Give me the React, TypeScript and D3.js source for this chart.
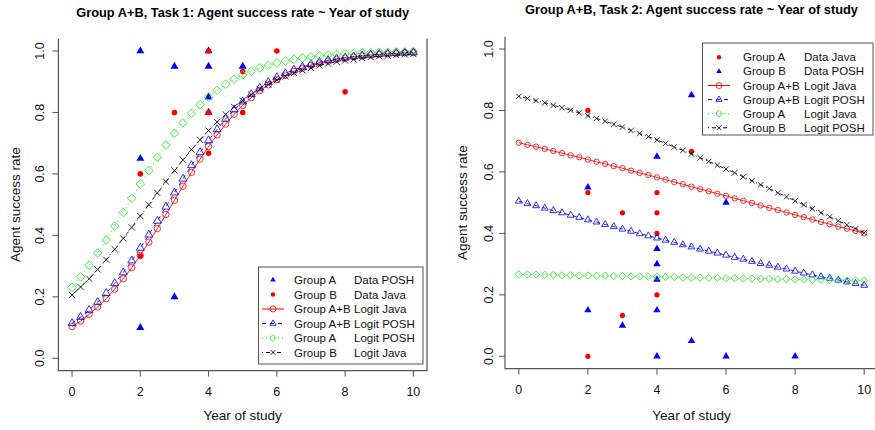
import React from 'react';
import * as d3 from 'd3';

// x grid of the fitted logit curves
const years = [0, 0.25, 0.5, 0.75, 1, 1.25, 1.5, 1.75, 2, 2.25, 2.5, 2.75, 3, 3.25, 3.5, 3.75, 4, 4.25, 4.5, 4.75,
  5, 5.25, 5.5, 5.75, 6, 6.25, 6.5, 6.75, 7, 7.25, 7.5, 7.75, 8, 8.25, 8.5, 8.75, 9, 9.25, 9.5, 9.75, 10];

const xTicks = [0, 2, 4, 6, 8, 10];
const yTicks = [0, 0.2, 0.4, 0.6, 0.8, 1.0];

// Task 1 observed data
const t1PoshYear = [2, 2, 2, 3, 3, 4, 4, 4, 4, 5];
const t1PoshRate = [1.0, 0.65, 0.1, 0.95, 0.2, 1.0, 0.95, 0.85, 0.8, 0.95];
const t1JavaYear = [2, 2, 3, 4, 4, 4, 5, 5, 6, 8];
const t1JavaRate = [0.6, 0.333, 0.8, 1.0, 0.8, 0.667, 0.933, 0.8, 1.0, 0.867];

// Task 1 logit fits
const t1LogitJavaAB = [0.103, 0.121, 0.143, 0.167, 0.194, 0.225, 0.259, 0.295, 0.335, 0.378,
  0.422, 0.468, 0.514, 0.560, 0.605, 0.648, 0.689, 0.727, 0.762, 0.794,
  0.823, 0.848, 0.871, 0.890, 0.907, 0.921, 0.934, 0.944, 0.953, 0.961,
  0.967, 0.973, 0.977, 0.981, 0.984, 0.987, 0.989, 0.991, 0.992, 0.994, 0.995];
const t1LogitPoshAB = [0.114, 0.134, 0.157, 0.183, 0.212, 0.244, 0.279, 0.318, 0.359, 0.402,
  0.447, 0.493, 0.539, 0.584, 0.628, 0.670, 0.709, 0.745, 0.779, 0.809,
  0.835, 0.859, 0.880, 0.898, 0.914, 0.927, 0.939, 0.948, 0.957, 0.964,
  0.970, 0.975, 0.979, 0.982, 0.985, 0.988, 0.990, 0.991, 0.993, 0.994, 0.995];
const t1LogitPoshA = [0.231, 0.265, 0.303, 0.343, 0.385, 0.430, 0.475, 0.521, 0.567, 0.611,
  0.654, 0.694, 0.732, 0.766, 0.797, 0.825, 0.850, 0.872, 0.892, 0.908,
  0.922, 0.934, 0.945, 0.954, 0.961, 0.967, 0.973, 0.977, 0.981, 0.984,
  0.987, 0.989, 0.991, 0.992, 0.994, 0.995, 0.996, 0.996, 0.997, 0.997, 0.998];
const t1LogitJavaB = [0.206, 0.232, 0.259, 0.289, 0.321, 0.355, 0.390, 0.426, 0.463, 0.500,
  0.538, 0.575, 0.611, 0.646, 0.679, 0.711, 0.741, 0.769, 0.794, 0.818,
  0.839, 0.858, 0.876, 0.891, 0.905, 0.917, 0.928, 0.937, 0.945, 0.953,
  0.959, 0.965, 0.969, 0.973, 0.977, 0.980, 0.983, 0.985, 0.987, 0.989, 0.990];

// Task 2 observed data
const t2JavaYear = [2, 2, 2, 3, 3, 4, 4, 4, 4, 5];
const t2JavaRate = [0.8, 0.533, 0, 0.467, 0.133, 0.533, 0.467, 0.4, 0.2, 0.667];
const t2PoshYear = [2, 2, 3, 4, 4, 4, 4, 4, 4, 5, 5, 6, 6, 8];
const t2PoshRate = [0.55, 0.15, 0.1, 0.65, 0.35, 0.3, 0.25, 0.15, 0, 0.85, 0.05, 0.5, 0, 0];

// Task 2 logit fits
const t2LogitJavaAB = [0.695, 0.688, 0.682, 0.675, 0.668, 0.661, 0.654, 0.648, 0.640, 0.633,
  0.626, 0.619, 0.612, 0.604, 0.597, 0.590, 0.582, 0.575, 0.567, 0.560,
  0.552, 0.544, 0.537, 0.529, 0.522, 0.514, 0.506, 0.499, 0.491, 0.483,
  0.476, 0.468, 0.460, 0.453, 0.445, 0.437, 0.430, 0.422, 0.415, 0.408, 0.400];
const t2LogitPoshAB = [0.505, 0.497, 0.490, 0.482, 0.474, 0.467, 0.459, 0.452, 0.444, 0.437,
  0.429, 0.422, 0.414, 0.407, 0.399, 0.392, 0.385, 0.378, 0.371, 0.363,
  0.356, 0.349, 0.342, 0.336, 0.329, 0.322, 0.316, 0.309, 0.302, 0.296,
  0.290, 0.284, 0.277, 0.271, 0.265, 0.259, 0.254, 0.248, 0.242, 0.237, 0.231];
const t2LogitJavaA = [0.267, 0.266, 0.266, 0.265, 0.265, 0.264, 0.264, 0.263, 0.263, 0.262,
  0.262, 0.261, 0.261, 0.260, 0.260, 0.259, 0.259, 0.258, 0.258, 0.257,
  0.256, 0.256, 0.255, 0.255, 0.254, 0.254, 0.253, 0.253, 0.252, 0.252,
  0.251, 0.251, 0.250, 0.250, 0.249, 0.249, 0.248, 0.248, 0.247, 0.247, 0.246];
const t2LogitPoshB = [0.846, 0.839, 0.832, 0.825, 0.817, 0.809, 0.801, 0.792, 0.783, 0.774,
  0.765, 0.755, 0.746, 0.735, 0.725, 0.715, 0.704, 0.693, 0.681, 0.670,
  0.658, 0.646, 0.634, 0.622, 0.609, 0.597, 0.584, 0.571, 0.558, 0.546,
  0.532, 0.519, 0.506, 0.493, 0.480, 0.467, 0.454, 0.441, 0.428, 0.415, 0.402];

const FONT = '"Liberation Sans", Arial, Helvetica, sans-serif';
const AXIS = '#555';

type Shape = 'dot' | 'filltri' | 'circle' | 'triangle' | 'diamond' | 'x';

function shapePath(shape: Shape, r: number): string {
  const p = d3.path();
  if (shape === 'dot' || shape === 'circle') {
    p.moveTo(r, 0);
    p.arc(0, 0, r, 0, 2 * Math.PI);
  } else if (shape === 'filltri' || shape === 'triangle') {
    p.moveTo(0, -r);
    p.lineTo(r * 0.866, r * 0.5);
    p.lineTo(-r * 0.866, r * 0.5);
    p.closePath();
  } else if (shape === 'diamond') {
    p.moveTo(0, -r);
    p.lineTo(r, 0);
    p.lineTo(0, r);
    p.lineTo(-r, 0);
    p.closePath();
  } else {
    p.moveTo(-r, -r);
    p.lineTo(r, r);
    p.moveTo(r, -r);
    p.lineTo(-r, r);
  }
  return p.toString();
}

const Marker = ({ shape, r, color, x, y }: { shape: Shape; r: number; color: string; x: number; y: number }) => {
  const filled = shape === 'dot' || shape === 'filltri';
  return (
    <path
      d={shapePath(shape, r)}
      transform={`translate(${x},${y})`}
      fill={filled ? color : 'none'}
      stroke={filled ? 'none' : color}
      strokeOpacity={filled ? 1 : 0.8}
      strokeWidth={1}
    />
  );
};

interface Curve {
  values: number[];
  color: string;
  dash: string;
  shape: Shape;
}

interface Points {
  xs: number[];
  ys: number[];
  color: string;
  shape: Shape;
}

interface LegendRow {
  group: string;
  kind: string;
  color: string;
  shape: Shape;
  dash: string | null;
}

interface PanelProps {
  title: string;
  titleY: number;
  xRange: [number, number];
  yRange: [number, number];
  points: Points[];
  curves: Curve[];
  markR: Record<Shape, number>;
  legend: LegendRow[];
  legendBox: { x: number; y: number; w: number; h: number; row0: number; step: number; sym: number; text1: number; text2: number };
  yTickX: number;
  yLabelX: number;
}

const Panel = (p: PanelProps) => {
  const x = d3.scaleLinear().domain([-0.4, 10.4]).range(p.xRange);
  const y = d3.scaleLinear().domain([-0.04, 1.04]).range(p.yRange);
  const [x0, x1] = p.xRange;
  const [y0, y1] = p.yRange;
  const cx = (x0 + x1) / 2;
  const line = d3.line<[number, number]>().x((d) => x(d[0])).y((d) => y(d[1]));
  const lb = p.legendBox;
  const legendR: Record<Shape, number> = { dot: 2.2, filltri: 3.2, circle: 3, triangle: 3.6, diamond: 3.4, x: 2.5 };

  return (
    <g>
      <text x={cx} y={p.titleY} textAnchor="middle" fontFamily={FONT} fontWeight="bold" fontSize={12.8} fill="#000">
        {p.title}
      </text>

      {/* axes frame */}
      <path d={`M${x0},${y1}V${y0}H${x1}V${y1}`} fill="none" stroke={AXIS} strokeWidth={1.2} />

      {xTicks.map((t) => (
        <g key={'xt' + t}>
          <line x1={x(t)} x2={x(t)} y1={y0} y2={y0 + 6} stroke={AXIS} />
          <text x={x(t)} y={y0 + 25} textAnchor="middle" fontFamily={FONT} fontSize={12.5} fill="#111">
            {t}
          </text>
        </g>
      ))}
      {yTicks.map((t) => (
        <g key={'yt' + t}>
          <line x1={x0 - 6} x2={x0} y1={y(t)} y2={y(t)} stroke={AXIS} />
          <text
            transform={`translate(${p.yTickX},${y(t)}) rotate(-90)`}
            textAnchor="middle"
            dy="0.35em"
            fontFamily={FONT}
            fontSize={12.5}
            fill="#111"
          >
            {t.toFixed(1)}
          </text>
        </g>
      ))}

      <text x={cx} y={420} textAnchor="middle" fontFamily={FONT} fontSize={13.5} fill="#111">
        Year of study
      </text>
      <text
        transform={`translate(${p.yLabelX},${(y0 + y1) / 2}) rotate(-90)`}
        textAnchor="middle"
        dy="0.35em"
        fontFamily={FONT}
        fontSize={13.5}
        fill="#111"
      >
        Agent success rate
      </text>

      {/* observed data */}
      {p.points.map((s, si) =>
        s.xs.map((xv, i) => (
          <Marker key={`p${si}-${i}`} shape={s.shape} r={p.markR[s.shape]} color={s.color} x={x(xv)} y={y(s.ys[i])} />
        ))
      )}

      {/* logit curves */}
      {p.curves.map((c, ci) => {
        const pts = years.map((yr, i) => [yr, c.values[i]] as [number, number]);
        return (
          <g key={'c' + ci}>
            <path d={line(pts) || ''} fill="none" stroke={c.color} strokeOpacity={0.85} strokeWidth={1} strokeDasharray={c.dash} />
            {pts.map((d, i) => (
              <Marker key={i} shape={c.shape} r={p.markR[c.shape]} color={c.color} x={x(d[0])} y={y(d[1])} />
            ))}
          </g>
        );
      })}

      {/* legend */}
      <rect x={lb.x} y={lb.y} width={lb.w} height={lb.h} fill="#fff" stroke={AXIS} strokeWidth={1} />
      {p.legend.map((row, i) => {
        const ry = lb.row0 + i * lb.step;
        return (
          <g key={'l' + i}>
            {row.dash !== null && (
              <line x1={lb.sym - 11} x2={lb.sym + 11} y1={ry} y2={ry} stroke={row.color} strokeDasharray={row.dash} />
            )}
            <Marker shape={row.shape} r={legendR[row.shape]} color={row.color} x={lb.sym} y={ry} />
            <text x={lb.text1} y={ry} dy="0.35em" fontFamily={FONT} fontSize={11.5} fill="#111">
              {row.group}
            </text>
            <text x={lb.text2} y={ry} dy="0.35em" fontFamily={FONT} fontSize={11.5} fill="#111">
              {row.kind}
            </text>
          </g>
        );
      })}
    </g>
  );
};

const RED = '#ff0000';
const BLUE = '#0000ff';
const GREEN = '#11ee11';
const BLACK = '#000000';
const SOLID = '';
const DASHED = '4,4';
const DOTTED = '1,3';
const DOTDASH = '1,3,4,3';

export default function App() {
  return (
    <svg
      width={875}
      height={430}
      style={{ position: 'absolute', left: 0, top: 0, background: '#fff' }}
    >
      <Panel
        title="Group A+B, Task 1: Agent success rate ~ Year of study"
        titleY={17}
        xRange={[58.4, 427]}
        yRange={[370.6, 38.7]}
        yTickX={40}
        yLabelX={15}
        markR={{ dot: 2.8, filltri: 4.6, circle: 3.2, triangle: 4.6, diamond: 4.3, x: 3.1 }}
        points={[
          { xs: t1PoshYear, ys: t1PoshRate, color: BLUE, shape: 'filltri' },
          { xs: t1JavaYear, ys: t1JavaRate, color: RED, shape: 'dot' },
        ]}
        curves={[
          { values: t1LogitJavaAB, color: RED, dash: SOLID, shape: 'circle' },
          { values: t1LogitPoshAB, color: BLUE, dash: DASHED, shape: 'triangle' },
          { values: t1LogitPoshA, color: GREEN, dash: DOTTED, shape: 'diamond' },
          { values: t1LogitJavaB, color: BLACK, dash: DOTDASH, shape: 'x' },
        ]}
        legend={[
          { group: 'Group A', kind: 'Data POSH', color: BLUE, shape: 'filltri', dash: null },
          { group: 'Group B', kind: 'Data Java', color: RED, shape: 'dot', dash: null },
          { group: 'Group A+B', kind: 'Logit Java', color: RED, shape: 'circle', dash: SOLID },
          { group: 'Group A+B', kind: 'Logit POSH', color: BLUE, shape: 'triangle', dash: DASHED },
          { group: 'Group A', kind: 'Logit POSH', color: GREEN, shape: 'diamond', dash: DOTTED },
          { group: 'Group B', kind: 'Logit Java', color: BLACK, shape: 'x', dash: DOTDASH },
        ]}
        legendBox={{ x: 258.5, y: 267, w: 164.5, h: 97, row0: 280, step: 14.5, sym: 273, text1: 294, text2: 354 }}
      />
      <Panel
        title="Group A+B, Task 2: Agent success rate ~ Year of study"
        titleY={14}
        xRange={[505, 878]}
        yRange={[368.6, 36.7]}
        yTickX={489}
        yLabelX={462}
        markR={{ dot: 2.6, filltri: 4.3, circle: 2.7, triangle: 4, diamond: 3.6, x: 2.7 }}
        points={[
          { xs: t2JavaYear, ys: t2JavaRate, color: RED, shape: 'dot' },
          { xs: t2PoshYear, ys: t2PoshRate, color: BLUE, shape: 'filltri' },
        ]}
        curves={[
          { values: t2LogitJavaAB, color: RED, dash: SOLID, shape: 'circle' },
          { values: t2LogitPoshAB, color: BLUE, dash: DASHED, shape: 'triangle' },
          { values: t2LogitJavaA, color: GREEN, dash: DOTTED, shape: 'diamond' },
          { values: t2LogitPoshB, color: BLACK, dash: DOTDASH, shape: 'x' },
        ]}
        legend={[
          { group: 'Group A', kind: 'Data Java', color: RED, shape: 'dot', dash: null },
          { group: 'Group B', kind: 'Data POSH', color: BLUE, shape: 'filltri', dash: null },
          { group: 'Group A+B', kind: 'Logit Java', color: RED, shape: 'circle', dash: SOLID },
          { group: 'Group A+B', kind: 'Logit POSH', color: BLUE, shape: 'triangle', dash: DASHED },
          { group: 'Group A', kind: 'Logit Java', color: GREEN, shape: 'diamond', dash: DOTTED },
          { group: 'Group B', kind: 'Logit POSH', color: BLACK, shape: 'x', dash: DOTDASH },
        ]}
        legendBox={{ x: 702.5, y: 43, w: 170.5, h: 92, row0: 57.3, step: 14.1, sym: 719, text1: 743, text2: 804 }}
      />
    </svg>
  );
}
